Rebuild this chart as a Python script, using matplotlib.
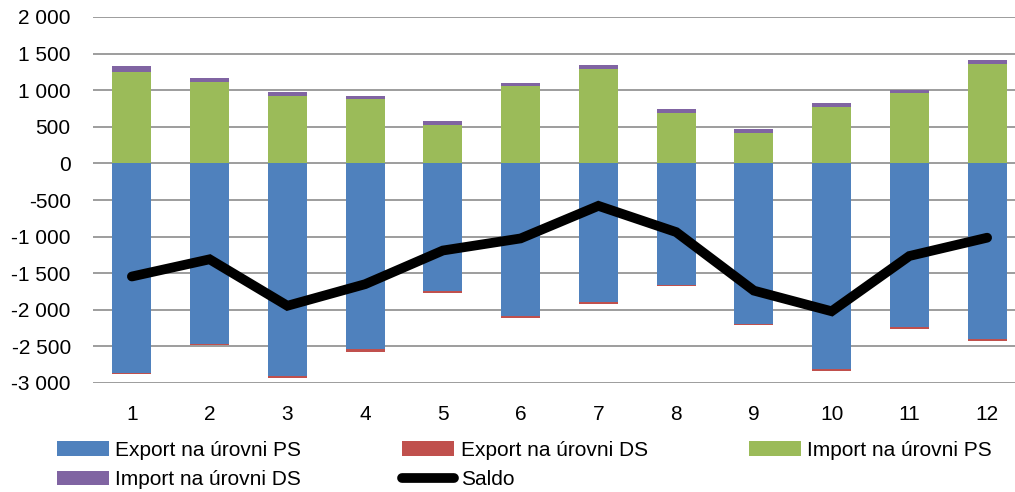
import matplotlib
matplotlib.use("Agg")
import matplotlib.pyplot as plt
import numpy as np

plt.rcParams["font.family"] = ["Liberation Sans", "DejaVu Sans"]

months = ["1", "2", "3", "4", "5", "6", "7", "8", "9", "10", "11", "12"]
export_ps = [-2870, -2470, -2900, -2541, -1739, -2086, -1895, -1657, -2195, -2805, -2236, -2400]
export_ds = [-8, -5, -25, -32, -27, -32, -22, -23, -18, -32, -32, -27]
import_ps = [1253, 1107, 919, 874, 519, 1056, 1284, 692, 419, 765, 956, 1352]
import_ds = [76, 54, 55, 45, 59, 41, 55, 55, 55, 55, 50, 59]
saldo = [-1545, -1310, -1945, -1650, -1190, -1025, -580, -938, -1738, -2020, -1265, -1015]

C_EXP_PS = "#4F81BD"
C_EXP_DS = "#C0504D"
C_IMP_PS = "#9BBB59"
C_IMP_DS = "#8064A2"

fig = plt.figure(figsize=(10.15, 4.92), dpi=100)
ax = fig.add_axes([93 / 1015, 1 - 383 / 492, (1026 - 93) / 1015, (383 - 17) / 492])

x = np.arange(len(months))
w = 0.5
b1 = ax.bar(x, export_ps, w, color=C_EXP_PS, zorder=2, label="Export na úrovni PS")
b2 = ax.bar(x, export_ds, w, bottom=export_ps, color=C_EXP_DS, zorder=2, label="Export na úrovni DS")
b3 = ax.bar(x, import_ps, w, color=C_IMP_PS, zorder=2, label="Import na úrovni PS")
b4 = ax.bar(x, import_ds, w, bottom=import_ps, color=C_IMP_DS, zorder=2, label="Import na úrovni DS")
l5, = ax.plot(x, saldo, color="black", lw=7, solid_capstyle="round",
              solid_joinstyle="miter", zorder=3, label="Saldo")

ax.set_xlim(-0.5, 11.5)
ax.set_ylim(-3000, 2000)
yt = np.arange(-3000, 2001, 500)
ax.set_yticks(yt)
ax.set_yticklabels([f"{v:,}".replace(",", " ") for v in yt])
ax.set_xticks(x)
ax.set_xticklabels(months)
ax.yaxis.grid(True, color="#8c8c8c", lw=1.2, zorder=0)
ax.set_axisbelow(True)
for s in ax.spines.values():
    s.set_visible(False)
ax.tick_params(axis="y", length=0, pad=16, labelsize=15)
ax.tick_params(axis="x", length=0, pad=16, labelsize=15)

# row-major order for 3 columns
handles = [b1, b4, b2, l5, b3]
labels = [h.get_label() for h in handles]
fig.legend(handles, labels, ncol=3, loc="upper left",
           bbox_to_anchor=(57 / 1015, 1 - 441 / 492), frameon=False,
           fontsize=15, borderpad=0, borderaxespad=0, handlelength=2.5,
           handletextpad=0.3, columnspacing=4.85, labelspacing=0.5)

fig.savefig("out.png", dpi=100)
